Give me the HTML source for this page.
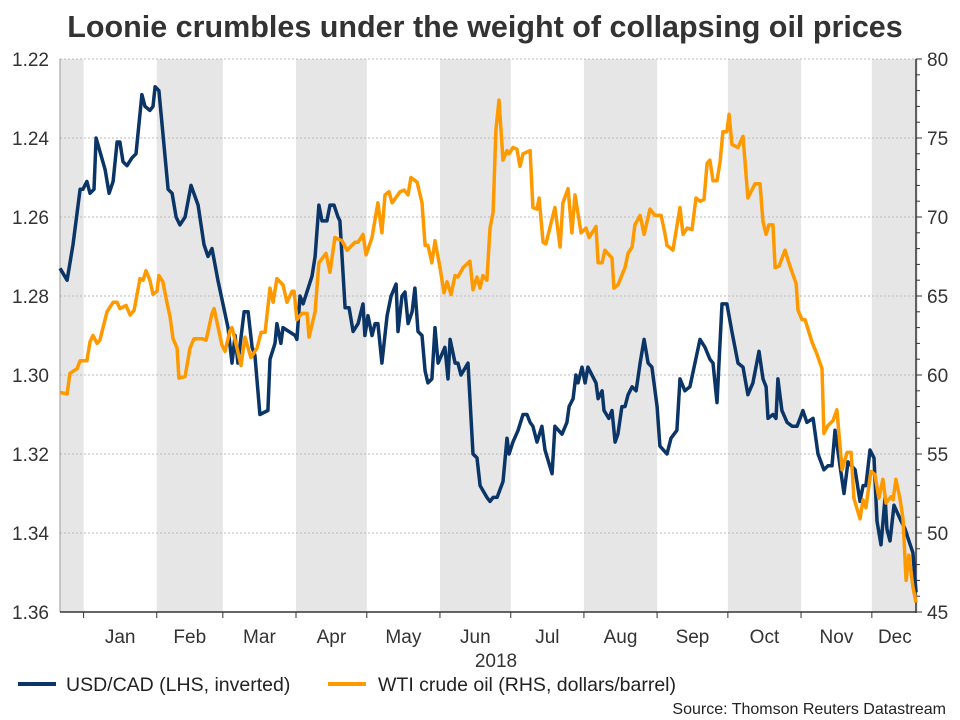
<!DOCTYPE html>
<html><head><meta charset="utf-8"><style>
body{margin:0;background:#fff;}
svg{display:block;font-family:"Liberation Sans",Arial,sans-serif;}
</style></head><body>
<svg id="chart" width="960" height="720" viewBox="0 0 960 720">
<text x="485" y="37" text-anchor="middle" font-size="30.5" font-weight="bold" fill="#333">Loonie crumbles under the weight of collapsing oil prices</text>
<g id="bands"></g><g id="grid"></g><g id="axes"></g><g id="series"></g>
<g>
<line x1="18" y1="684" x2="56" y2="684" stroke="#0b3566" stroke-width="4"/>
<text x="66" y="691" font-size="19.5" fill="#222">USD/CAD (LHS, inverted)</text>
<line x1="328" y1="684" x2="366" y2="684" stroke="#ff9900" stroke-width="4"/>
<text x="378" y="691" font-size="19.5" fill="#222">WTI crude oil (RHS, dollars/barrel)</text>
</g>
<text x="946" y="714" text-anchor="end" font-size="16" fill="#222">Source: Thomson Reuters Datastream</text>
</svg>
<script>
const monthLabels=["Jan","Feb","Mar","Apr","May","Jun","Jul","Aug","Sep","Oct","Nov","Dec"];
const monthStarts=[10,41,69,100,130,161,191,222,253,283,314,344];
const leftTicks=[1.22,1.24,1.26,1.28,1.30,1.32,1.34,1.36];
const rightTicks=[80,75,70,65,60,55,50,45];
const usdDays=[0,3,5.5,8.5,9.7,11.4,12.7,14.4,15.3,19.1,20.8,22.5,24.2,25.4,26.7,28.4,30.5,32.2,34.7,36,38.1,39.4,40.3,41.9,45.8,47.5,49.2,50.8,53,55.5,58.5,61,62.7,64.4,66.9,71.2,72.9,74.2,75.4,78,79.7,81.4,82.6,84.7,88.1,89,91.1,91.9,93.6,94.5,99.6,100.4,101.7,103,106.8,108.1,109.7,111,113.1,114.4,116.1,117.8,118.6,120.8,122.5,124.2,126.3,128.4,129.2,130.5,132.2,133.5,134.7,136.4,138.6,140.3,142.4,143.2,144.9,146.2,147.5,149.2,150.4,151.7,153.4,154.7,155.9,157.6,158.9,160.2,163.1,164.4,165.3,167.4,168.6,169.9,172.9,175,176.7,178,180.9,182.2,183.5,185.2,187.7,189.4,190.3,191.9,194.1,196.2,197.9,199.2,200.4,202.1,204.2,205.5,208.5,209.7,212.7,214.8,215.7,217.4,218.6,219.5,221.2,222.5,223.7,227.1,228,229.7,230.5,232.6,233.9,235.2,236.4,238.1,239.4,240.7,242.4,244.1,245.8,247.5,249.2,250.8,253,254.2,257.2,258.9,261.4,262.7,264.8,266.9,271.2,273.3,275.4,276.7,278.4,280.5,282.6,284.7,287.3,289.4,291.5,293.6,296.2,297.9,299.2,300,302.1,303.4,304.2,305.9,308.1,310.2,312.3,313.6,314.8,316.5,319.1,321.2,323.7,325.4,327.1,328.4,330.5,332.2,333.9,336.9,339,340.3,341.5,343.2,344.9,346.2,347.9,349.6,350.4,351.7,353.4,356.4,358.1,359.7,361.4,362.7];
const usdVals=[1.273,1.276,1.267,1.253,1.253,1.251,1.254,1.253,1.240,1.248,1.254,1.251,1.241,1.241,1.246,1.247,1.245,1.244,1.229,1.232,1.233,1.232,1.227,1.228,1.253,1.254,1.260,1.262,1.260,1.252,1.257,1.267,1.270,1.268,1.276,1.288,1.297,1.290,1.297,1.284,1.284,1.293,1.295,1.310,1.309,1.296,1.292,1.287,1.292,1.288,1.290,1.291,1.280,1.282,1.275,1.270,1.257,1.261,1.261,1.257,1.257,1.260,1.261,1.283,1.283,1.289,1.287,1.282,1.290,1.285,1.290,1.287,1.287,1.297,1.285,1.280,1.277,1.289,1.280,1.279,1.287,1.284,1.278,1.289,1.290,1.299,1.302,1.301,1.288,1.297,1.293,1.301,1.291,1.297,1.297,1.300,1.297,1.320,1.321,1.328,1.331,1.332,1.331,1.331,1.327,1.316,1.320,1.317,1.314,1.310,1.310,1.312,1.313,1.317,1.313,1.319,1.325,1.313,1.315,1.312,1.308,1.306,1.300,1.302,1.298,1.302,1.298,1.302,1.306,1.304,1.309,1.311,1.309,1.317,1.315,1.308,1.308,1.305,1.303,1.304,1.297,1.291,1.297,1.298,1.308,1.318,1.320,1.316,1.314,1.301,1.304,1.303,1.291,1.293,1.296,1.297,1.307,1.282,1.282,1.289,1.297,1.298,1.305,1.302,1.294,1.301,1.303,1.311,1.310,1.311,1.301,1.309,1.312,1.313,1.313,1.311,1.309,1.312,1.311,1.320,1.324,1.323,1.323,1.314,1.323,1.330,1.322,1.324,1.332,1.328,1.328,1.319,1.321,1.337,1.343,1.331,1.339,1.342,1.333,1.337,1.339,1.342,1.345,1.355];
const oilDays=[0,3,4.2,7.2,8.5,11.4,12.7,14,15.7,16.9,19.9,22.5,24.2,25.4,28,29.7,31.4,33.9,35.2,36.4,38.1,39.4,41.1,41.9,43.6,45.3,46.6,47.9,49.6,50.4,53,55.1,56.8,60.2,61.9,64.4,65.3,68.6,69.9,72,72.9,75,76.7,78.4,80.9,83.5,85.2,86.9,89,90.3,91.9,94.5,96.2,98.3,99.2,100.4,102.5,104.7,105.5,108.1,109.7,112.7,114.4,116.5,119.5,121.6,125,126.3,128.4,129.7,132.2,134.7,136.4,137.7,139.4,140.7,144.1,145.8,147.5,148.7,151.3,153.4,154.7,155.9,157.6,158.9,161,162.7,164,165.7,167.4,168.6,170.8,173.7,175,176.7,178,179.2,180.9,182.2,183.5,184.7,186,187.7,189.4,190.3,191.9,193.6,194.9,196.2,199.2,200.4,202.1,203,204.7,205.9,209.7,211.9,213.1,215.3,216.9,218.2,220.8,222.9,224.2,227.1,228,229.7,230.9,233.9,234.7,236.4,239.4,240.7,242.4,243.6,245.8,247.5,250,252.1,254.7,256.4,257.2,259.7,262.7,264,265.7,267.8,269.5,271.2,272.9,274.2,275.4,276.7,278.4,279.7,280.9,282.6,283.5,284.7,287.3,289.4,291.5,294.5,296.6,297.9,299.2,300.4,302.1,303,304.7,307.2,309.3,311.9,312.7,314.4,315.7,318.6,320.8,322.9,323.7,325.4,327.5,329.2,331.4,333.5,335.2,336.4,339,340.3,341.5,343.6,345.3,347,348.7,350,352.1,353,354.2,355.9,357.2,358.5,359.7,361.4,362.7];
const oilVals=[58.9,58.8,60.1,60.4,60.9,60.9,62.1,62.5,62.0,62.2,64.0,64.6,64.6,64.2,64.4,63.8,64.1,66.1,66.0,66.6,66.0,65.1,65.3,66.3,65.9,64.6,63.7,62.3,61.7,59.8,59.9,61.7,62.3,62.3,62.2,63.9,64.2,61.9,61.5,62.8,63.0,61.7,60.6,62.4,61.1,61.7,62.7,62.7,65.5,64.6,66.1,65.7,64.6,65.3,65.3,63.5,63.9,63.9,62.4,64.0,67.1,67.7,66.5,68.7,68.5,67.9,68.4,68.4,68.9,67.6,68.7,70.9,69.0,71.4,71.6,70.9,71.6,71.7,71.4,72.5,72.2,70.9,68.2,68.2,67.1,68.5,66.8,65.2,65.9,65.1,66.3,66.2,66.8,67.2,65.4,66.2,65.5,66.3,66.0,69.3,70.3,75.5,77.4,73.6,74.2,74.0,74.4,74.3,73.2,74.0,74.2,70.6,70.5,71.2,68.4,68.3,70.6,68.1,70.9,71.8,69.0,71.4,69.0,69.3,68.7,69.4,67.1,67.1,67.9,67.4,65.5,65.7,66.8,67.7,68.1,69.5,70.1,68.9,70.5,70.1,70.1,68.9,68.2,67.9,70.6,68.9,69.3,69.2,71.2,71.0,71.1,73.4,73.6,72.3,72.3,73.5,75.4,75.4,76.5,74.6,74.4,75.1,71.2,72.1,72.1,69.7,68.9,69.5,69.5,66.8,66.9,67.9,66.9,65.8,64.1,63.5,63.5,62.1,61.3,60.4,56.3,56.8,57.1,57.8,54.0,55.1,55.1,52.2,50.9,52.1,51.6,53.9,53.7,52.2,53.4,51.9,52.3,52.1,53.4,52.2,50.9,47.0,48.6,46.6,45.6];

const X0=60,X1=916,Y0=59,Y1=612,DPX=2.36;
function xs(d){return X0+d*DPX;}
function yl(v){return Y0+(v-1.22)/(1.36-1.22)*(Y1-Y0);}
function yr(v){return Y0+(80-v)/(80-45)*(Y1-Y0);}
const NS="http://www.w3.org/2000/svg";
function mk(tag,attrs,parent){const e=document.createElementNS(NS,tag);for(const k in attrs)e.setAttribute(k,attrs[k]);parent.appendChild(e);return e;}
const bands=document.getElementById('bands'),grid=document.getElementById('grid'),axes=document.getElementById('axes'),series=document.getElementById('series');
const bandEdges=[0].concat(monthStarts).concat([363.5]);
for(let i=0;i<bandEdges.length-1;i+=2){
  const r=mk('rect',{x:xs(bandEdges[i]),y:Y0,width:xs(bandEdges[i+1])-xs(bandEdges[i]),height:Y1-Y0,fill:'#e6e6e6'},bands);
  
  
}
leftTicks.forEach((v,i)=>{
  const y=yl(v);
  if(i>0&&i<leftTicks.length-1){const g=mk('line',{x1:X0,x2:X1,y1:y,y2:y,stroke:'#bbb','stroke-dasharray':'2,2','stroke-width':1},grid);
  
  }
  const t=mk('text',{x:49,y:y+7,'text-anchor':'end','font-size':19,fill:'#333'},axes);t.textContent=v.toFixed(2);
  
  
});
mk('line',{x1:X0,x2:X1,y1:Y0,y2:Y0,stroke:'#bbb','stroke-dasharray':'2,2'},grid);
rightTicks.forEach(v=>{
  const y=yr(v);
  const t=mk('text',{x:927,y:y+7,'font-size':19,fill:'#333'},axes);t.textContent=v;
  
  
});
for(let v=45;v<=80;v++){mk('line',{x1:X1,x2:X1+(v%5===0?6:4),y1:yr(v),y2:yr(v),stroke:'#333','stroke-width':1},axes);}
mk('line',{x1:X0,x2:X0,y1:Y0,y2:Y1,stroke:'#999','stroke-width':1},axes);
mk('line',{x1:X1,x2:X1,y1:Y0,y2:Y1+1,stroke:'#333','stroke-width':1.5},axes);
mk('line',{x1:X0,x2:X1,y1:Y1,y2:Y1,stroke:'#333','stroke-width':1.5},axes);
monthStarts.forEach((d,i)=>{
  mk('line',{x1:xs(d),x2:xs(d),y1:Y1,y2:Y1+6,stroke:'#333'},axes);
  const end=i<monthStarts.length-1?monthStarts[i+1]:363.5;
  const t=mk('text',{x:(xs(d)+xs(end))/2,y:643,'text-anchor':'middle','font-size':19,fill:'#333'},axes);t.textContent=monthLabels[i];
  
  
});
const yr18=mk('text',{x:496,y:667,'text-anchor':'middle','font-size':19,fill:'#333'},axes);yr18.textContent='2018';


function line(days,vals,fy,color,name){
  const d=days.map((dd,i)=>(i?'L':'M')+xs(dd).toFixed(1)+','+fy(vals[i]).toFixed(1)).join('');
  const p=mk('path',{d:d,fill:'none',stroke:color,'stroke-width':3.5,'stroke-linejoin':'round'},series);
  
  
}
line(usdDays,usdVals,yl,'#0b3566','usdcad-line');
line(oilDays,oilVals,yr,'#ff9900','wti-line');
</script>
</body></html>
